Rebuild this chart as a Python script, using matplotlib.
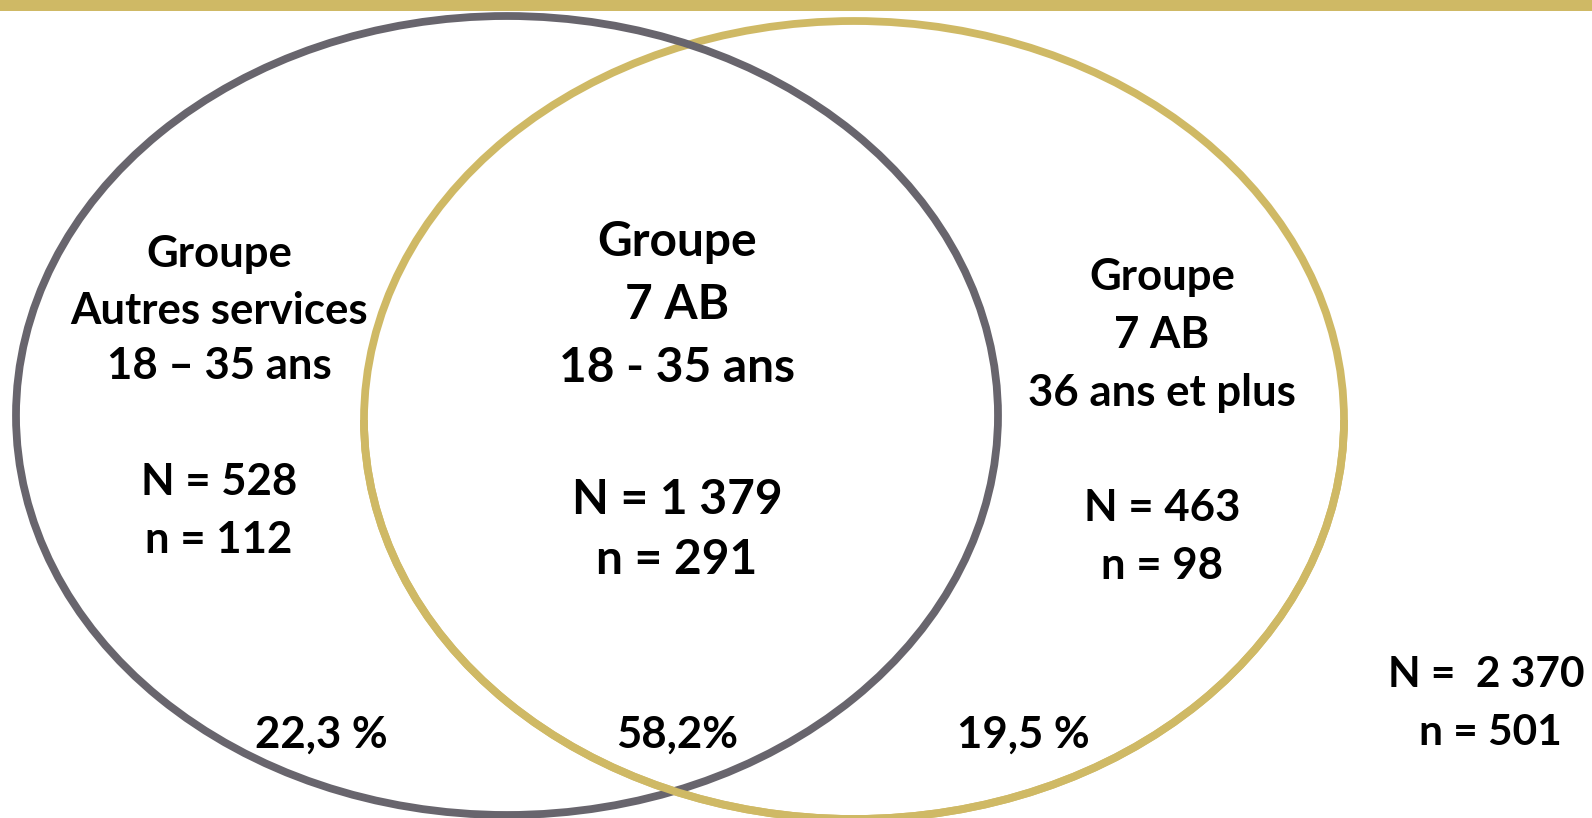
import matplotlib.pyplot as plt
from matplotlib.patches import Ellipse, Rectangle

# groups: left (other services), overlap (7 AB young), right (7 AB older)
groupes = ["Autres services", "7 AB", "7 AB"]
ages = ["18 – 35 ans", "18 - 35 ans", "36 ans et plus"]
N_vals = ["528", "1 379", "463"]
n_vals = ["112", "291", "98"]
pcts = ["22,3 %", "58,2%", "19,5 %"]
N_total = "2 370"
n_total = "501"

GREY = "#68656d"
GOLD = "#cfb965"

plt.rcParams['font.family'] = ['Lato', 'DejaVu Sans']

fig = plt.figure(figsize=(15.92, 8.18), dpi=100)
ax = fig.add_axes([0, 0, 1, 1])
ax.set_xlim(0, 1592)
ax.set_ylim(818, 0)
ax.axis('off')

# gold band across the top
ax.add_patch(Rectangle((0, 0), 1592, 11, color=GOLD, lw=0))

# the two ellipses, grey passes over gold at the top, gold over grey at the bottom
gold = Ellipse((854, 420), 980, 798, fill=False, ec=GOLD, lw=5.6, zorder=2)
grey = Ellipse((507, 415.5), 982, 799, fill=False, ec=GREY, lw=5.6, zorder=3)
ax.add_patch(gold)
ax.add_patch(grey)
gold_low = Ellipse((854, 420), 980, 798, fill=False, ec=GOLD, lw=5.6, zorder=4)
ax.add_patch(gold_low)
clip = Rectangle((0, 420), 1592, 420, transform=ax.transData)
gold_low.set_clip_path(clip)

# text blocks
xs = [219, 677, 1162]
head_y = [[254, 311, 366], [242, 305, 368], [277, 335, 393]]
count_y = [[482, 540], [500, 560], [508, 566]]
sizes = [31.5, 34.5, 31.5]
for i in range(3):
    lines = ["Groupe", groupes[i], ages[i]]
    for txt, y in zip(lines, head_y[i]):
        ax.text(xs[i], y, txt, ha='center', va='center', fontsize=sizes[i],
                fontweight='bold', color='black')
    counts = ["N = " + N_vals[i], "n = " + n_vals[i]]
    for txt, y in zip(counts, count_y[i]):
        ax.text(xs[i], y, txt, ha='center', va='center', fontsize=sizes[i],
                fontweight='bold', color='black')

for x, p in zip([321, 677, 1023], pcts):
    ax.text(x, 735, p, ha='center', va='center', fontsize=31.5,
            fontweight='bold', color='black')

ax.text(1486, 675, "N =  " + N_total, ha='center', va='center', fontsize=30.5,
        fontweight='bold', color='black')
ax.text(1490, 733, "n = " + n_total, ha='center', va='center', fontsize=30.5,
        fontweight='bold', color='black')

fig.savefig("out.png", dpi=100)
